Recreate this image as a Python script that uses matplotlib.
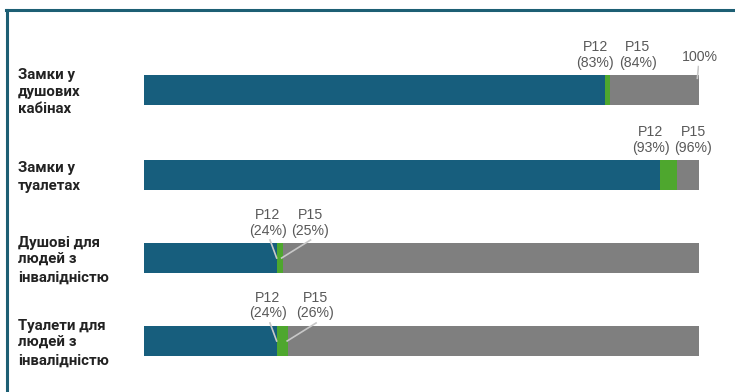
import matplotlib.pyplot as plt
from matplotlib.lines import Line2D

categories = ['Замки у\nдушових\nкабінах', 'Замки у\nтуалетах',
              'Душові для\nлюдей з\nінвалідністю', 'Туалети для\nлюдей з\nінвалідністю']
p12 = [83, 93, 24, 24]
p15 = [84, 96, 25, 26]
total = [100, 100, 100, 100]

blue = '#175e7d'
green = '#4ea72e'
grey = '#7f7f7f'
txt = '#595959'

fig = plt.figure(figsize=(7.35, 3.92), dpi=100)
ax = fig.add_axes([144 / 735, 0, (699 - 144) / 735, 1])
ax.set_xlim(0, 100)
ax.set_ylim(3.61, -1.076)
ax.axis('off')

ys = [0, 1.016, 2.008, 3.0]
h = 0.36
for y, a, b, t in zip(ys, p12, p15, total):
    ax.barh(y, t, height=h, color=grey, zorder=1)
    ax.barh(y, b, height=h, color=green, zorder=2)
    ax.barh(y, a, height=h, color=blue, zorder=3)

for i, (y, a, b) in enumerate(zip(ys, p12, p15)):
    x12 = a - 1.7
    x15 = x12 + (7.7 if i != 3 else 8.6)
    ly = y - 0.42
    ax.text(x12, ly, f'P12\n({a}%)', ha='center', va='center', fontsize=10.2,
            color=txt, family='Liberation Sans', linespacing=1.12)
    ax.text(x15, ly, f'P15\n({b}%)', ha='center', va='center', fontsize=10.2,
            color=txt, family='Liberation Sans', linespacing=1.12)
    if i >= 2:
        ax.plot([a - 1.3, a - 0.1], [y - 0.215, y], color='#c8c8c8', lw=1.2, zorder=4)
        ax.plot([b + 5.0, b - 0.2], [y - 0.215, y], color='#c8c8c8', lw=1.2, zorder=4)

ax.text(100.2, ys[0] - 0.4, '100%', ha='center', va='center', fontsize=10.2,
        color=txt, family='Liberation Sans')
ax.plot([99.9, 99.7], [ys[0] - 0.28, ys[0] - 0.14], color='#c8c8c8', lw=1.2, zorder=4)

for y, c in zip(ys, categories):
    fig.text(18 / 735, 1 - (y * 83.67 + 92) / 392, c, ha='left', va='center',
             fontsize=10.8, fontweight='bold', family='Roboto', color='#222222',
             linespacing=1.3)

fig.add_artist(Line2D([7.5 / 735, 7.5 / 735], [0, 1 - 9.5 / 392],
                      color='#1d5f74', lw=2.2, transform=fig.transFigure))
fig.add_artist(Line2D([6.4 / 735, 1], [1 - 10 / 392, 1 - 10 / 392],
                      color='#1d5f74', lw=2.2, transform=fig.transFigure))

fig.savefig('out.png', dpi=100)
